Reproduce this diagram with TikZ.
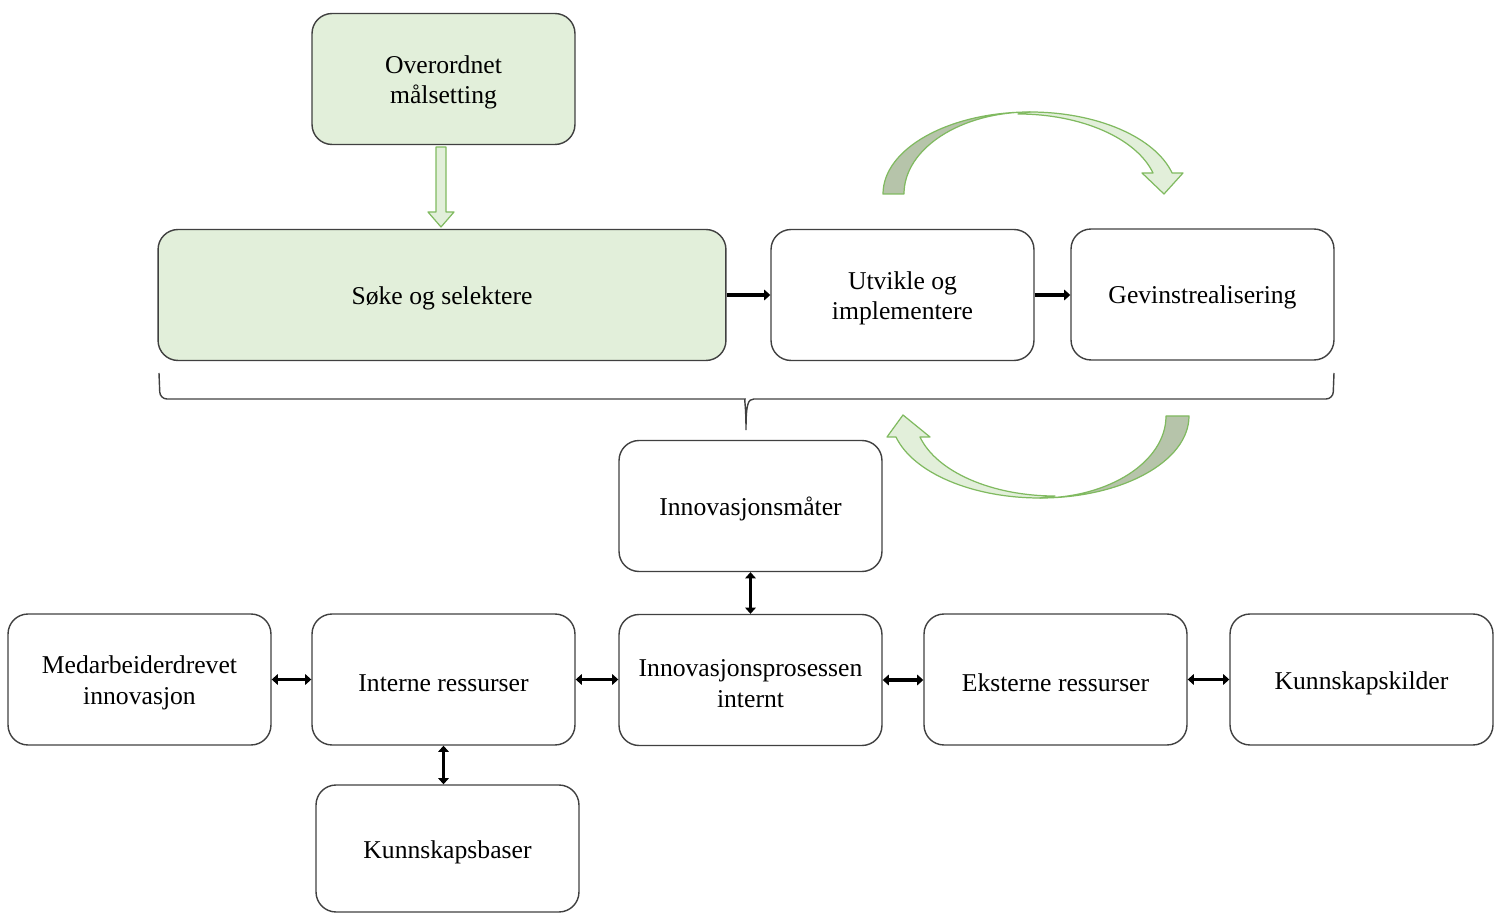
\documentclass[tikz,border=0pt]{standalone}
\usepackage{fontspec}
\setmainfont{Liberation Serif}
\usetikzlibrary{arrows.meta}
\definecolor{leaf}{HTML}{E2EFDA}
\definecolor{leafdark}{RGB}{182,196,170}
\definecolor{leafline}{RGB}{128,186,96}
\definecolor{boxline}{HTML}{404040}
\tikzset{
  box/.style={draw=boxline, line width=0.8pt, rounded corners=0.4cm,
    minimum width=5.26cm, minimum height=2.62cm, inner sep=2pt},
  boxtext/.style={align=center, font=\fontsize{14.6}{17.6}\selectfont,
    yshift=-1.9pt, inner sep=0pt},
  greenbox/.style={box, fill=leaf},
  flow/.style={line width=2.2pt, -{Triangle[length=3.5pt,width=6pt]}},
  twoway/.style={line width=2.2pt, {Triangle[length=3.5pt,width=6pt]}-{Triangle[length=3.5pt,width=6pt]}},
  lightband/.style={fill=leaf, draw=leafline, line width=0.7pt, line join=round},
  darkband/.style={fill=leafdark, draw=leafline, line width=0.7pt, line join=round},
  bracket/.style={draw=boxline, line width=0.8pt}
}
\begin{document}
\begin{tikzpicture}[x=0.02cm,y=-0.02cm]
\useasboundingbox (0,0) rectangle (1499,915);

% top row
\node[greenbox, label={[boxtext]center:{Overordnet\\målsetting}}] (over) at (443.5,79) {};
\node[greenbox, minimum width=11.36cm, label={[boxtext]center:{Søke og selektere}}] (soke) at (442,295) {};
\node[box, label={[boxtext]center:{Utvikle og\\implementere}}] (utv) at (902.5,295) {};
\node[box, label={[boxtext]center:{Gevinstrealisering}}] (gev) at (1202.5,294.5) {};

% lower part
\node[box, label={[boxtext]center:{Innovasjonsmåter}}] (maater) at (750.5,506) {};
\node[box, label={[boxtext]center:{Medarbeiderdrevet\\innovasjon}}] (medarb) at (139.5,679.5) {};
\node[box, label={[boxtext]center:{Interne ressurser}}] (interne) at (443.5,679.5) {};
\node[box, label={[boxtext]center:{Innovasjonsprosessen\\internt}}] (prosess) at (750.5,680) {};
\node[box, label={[boxtext]center:{Eksterne ressurser}}] (eksterne) at (1055.5,679.5) {};
\node[box, label={[boxtext]center:{Kunnskapskilder}}] (kilder) at (1361.5,679.5) {};
\node[box, minimum height=2.54cm, label={[boxtext]center:{Kunnskapsbaser}}] (baser) at (447.5,848.5) {};

% process flow
\draw[flow] (soke.east) -- (soke.east -| utv.west);
\draw[flow] (utv.east) -- (utv.east -| gev.west);

% two-way links
\draw[twoway] (medarb.east) -- (medarb.east -| interne.west);
\draw[twoway] (interne.east) -- (interne.east -| prosess.west);
\draw[twoway] (prosess.east) -- (prosess.east -| eksterne.west);
\draw[twoway] (eksterne.east) -- (eksterne.east -| kilder.west);
\draw[twoway] (maater.south) -- (maater.south |- prosess.north);
\draw[twoway] (interne.south) -- (interne.south |- baser.north);

% block arrow from goal to search
\draw[lightband] (436,147) -- (446,147) -- (446,212) -- (454,212) -- (441,227)
  -- (428,212) -- (436,212) -- cycle;

% curly bracket under the top row
\draw[bracket, rounded corners=4] (159,373) -- (160,399) -- (738,399)
  [sharp corners] .. controls (744,399) and (746,404) .. (746,430)
  .. controls (746,404) and (748,399) .. (754,399)
  [rounded corners=4] -- (1333,399) -- (1334,373);

% curved arrow above (left to right)
\draw[lightband] (1030,112) arc[start angle=270, end angle=345.2, x radius=147, y radius=82]
  -- (1183,173) -- (1164,194) -- (1142,173) -- (1153,173)
  arc[start angle=344.8, end angle=270, x radius=140, y radius=80] -- cycle;
\draw[darkband] (883,194) arc[start angle=180, end angle=270, x radius=147, y radius=82]
  arc[start angle=270, end angle=180, x radius=126, y radius=82] -- cycle;

% curved arrow below (right to left)
\draw[lightband] (1040,498) arc[start angle=90, end angle=165.2, x radius=149, y radius=82]
  -- (887,437) -- (903,415) -- (930,437) -- (920,437)
  arc[start angle=164.8, end angle=90, x radius=140, y radius=80] -- cycle;
\draw[darkband] (1189,416) arc[start angle=0, end angle=90, x radius=149, y radius=82]
  arc[start angle=90, end angle=0, x radius=126, y radius=82] -- cycle;
\end{tikzpicture}
\end{document}
